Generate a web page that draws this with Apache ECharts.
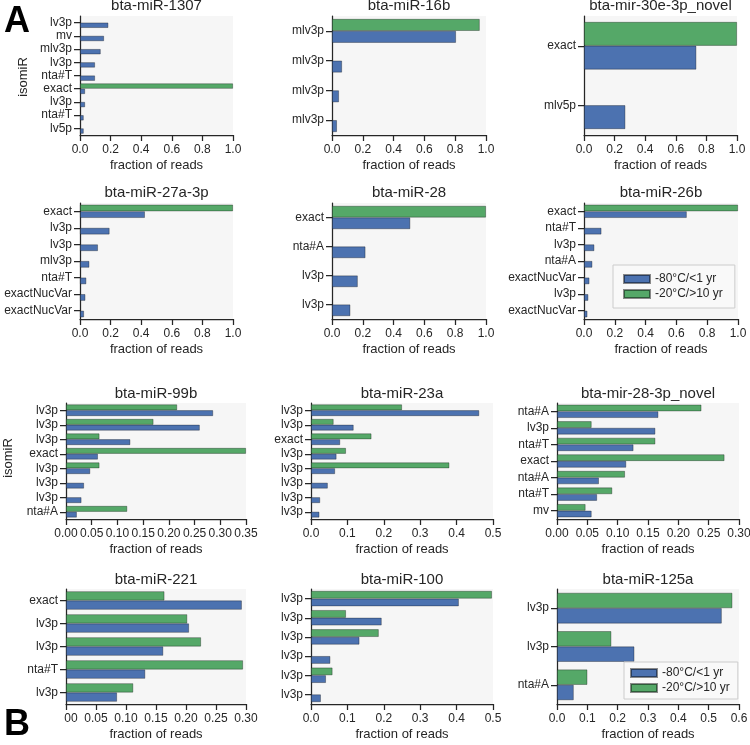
<!DOCTYPE html>
<html>
<head>
<meta charset="utf-8">
<script src="https://cdn.jsdelivr.net/npm/echarts/dist/echarts.min.js"></script>
<style>
  html, body { margin: 0; padding: 0; background: #fff; }
  #chart { width: 750px; height: 745px; }
</style>
</head>
<body>
<div id="chart"></div>
<script>
// legend / series names
const seriesNames = ['-80°C/<1 yr', '-20°C/>10 yr'];

const titles = [
  'bta-miR-1307', 'bta-miR-16b', 'bta-mir-30e-3p_novel',
  'bta-miR-27a-3p', 'bta-miR-28', 'bta-miR-26b',
  'bta-miR-99b', 'bta-miR-23a', 'bta-mir-28-3p_novel',
  'bta-miR-221', 'bta-miR-100', 'bta-miR-125a'
];

// x axis range per panel
const xMax = [1, 1, 1, 1, 1, 1, 0.35, 0.5, 0.3, 0.3, 0.5, 0.6];
const xStep = [0.2, 0.2, 0.2, 0.2, 0.2, 0.2, 0.05, 0.1, 0.05, 0.05, 0.1, 0.1];

// isomiR labels, -80°C (cold) and -20°C (warm) fractions, top to bottom
const miR1307Labels = ['lv3p', 'mv', 'mlv3p', 'lv3p', 'nta#T', 'exact', 'lv3p', 'nta#T', 'lv5p'];
const miR1307Cold = [0.185, 0.157, 0.135, 0.098, 0.098, 0.033, 0.033, 0.024, 0.024];
const miR1307Warm = [0, 0, 0, 0, 0, 1.0, 0, 0, 0];

const miR16bLabels = ['mlv3p', 'mlv3p', 'mlv3p', 'mlv3p'];
const miR16bCold = [0.805, 0.065, 0.045, 0.032];
const miR16bWarm = [0.959, 0, 0, 0];

const mir30eLabels = ['exact', 'mlv5p'];
const mir30eCold = [0.734, 0.27];
const mir30eWarm = [1.0, 0];

const miR27aLabels = ['exact', 'lv3p', 'lv3p', 'mlv3p', 'nta#T', 'exactNucVar', 'exactNucVar'];
const miR27aCold = [0.424, 0.193, 0.117, 0.061, 0.041, 0.035, 0.026];
const miR27aWarm = [1.0, 0, 0, 0, 0, 0, 0];

const miR28Labels = ['exact', 'nta#A', 'lv3p', 'lv3p'];
const miR28Cold = [0.508, 0.217, 0.167, 0.119];
const miR28Warm = [1.0, 0, 0, 0];

const miR26bLabels = ['exact', 'nta#T', 'lv3p', 'nta#A', 'exactNucVar', 'lv3p', 'exactNucVar'];
const miR26bCold = [0.667, 0.113, 0.067, 0.054, 0.035, 0.028, 0.022];
const miR26bWarm = [1.0, 0, 0, 0, 0, 0, 0];

const miR99bLabels = ['lv3p', 'lv3p', 'lv3p', 'exact', 'lv3p', 'lv3p', 'lv3p', 'nta#A'];
const miR99bCold = [0.286, 0.26, 0.125, 0.062, 0.047, 0.035, 0.030, 0.021];
const miR99bWarm = [0.216, 0.17, 0.065, 0.35, 0.065, 0, 0, 0.119];

const miR23aLabels = ['lv3p', 'lv3p', 'exact', 'lv3p', 'lv3p', 'lv3p', 'lv3p', 'lv3p'];
const miR23aCold = [0.462, 0.117, 0.080, 0.070, 0.066, 0.046, 0.025, 0.023];
const miR23aWarm = [0.250, 0.062, 0.166, 0.096, 0.380, 0, 0, 0];

const mir28Labels = ['nta#A', 'lv3p', 'nta#T', 'exact', 'nta#A', 'nta#T', 'mv'];
const mir28Cold = [0.167, 0.162, 0.126, 0.114, 0.069, 0.066, 0.057];
const mir28Warm = [0.238, 0.057, 0.162, 0.276, 0.112, 0.091, 0.047];

const miR221Labels = ['exact', 'lv3p', 'lv3p', 'nta#T', 'lv3p'];
const miR221Cold = [0.293, 0.205, 0.162, 0.132, 0.085];
const miR221Warm = [0.164, 0.202, 0.225, 0.295, 0.112];

const miR100Labels = ['lv3p', 'lv3p', 'lv3p', 'lv3p', 'lv3p', 'lv3p'];
const miR100Cold = [0.406, 0.194, 0.133, 0.053, 0.041, 0.027];
const miR100Warm = [0.497, 0.096, 0.186, 0, 0.059, 0];

const miR125aLabels = ['lv3p', 'lv3p', 'nta#A'];
const miR125aCold = [0.543, 0.255, 0.055];
const miR125aWarm = [0.578, 0.179, 0.100];

const panels = [
  [miR1307Labels, miR1307Cold, miR1307Warm],
  [miR16bLabels, miR16bCold, miR16bWarm],
  [mir30eLabels, mir30eCold, mir30eWarm],
  [miR27aLabels, miR27aCold, miR27aWarm],
  [miR28Labels, miR28Cold, miR28Warm],
  [miR26bLabels, miR26bCold, miR26bWarm],
  [miR99bLabels, miR99bCold, miR99bWarm],
  [miR23aLabels, miR23aCold, miR23aWarm],
  [mir28Labels, mir28Cold, mir28Warm],
  [miR221Labels, miR221Cold, miR221Warm],
  [miR100Labels, miR100Cold, miR100Warm],
  [miR125aLabels, miR125aCold, miR125aWarm]
];

// grid boxes: left, top, width, height
const boxes = [
  [80, 16, 153, 119], [332, 16, 154, 119], [584, 16, 153, 119],
  [80, 203, 153, 116], [332, 203, 154, 116], [584, 203, 154, 116],
  [66, 403, 180, 116], [311, 403, 182, 116], [557, 403, 182, 116],
  [66, 589, 180, 115], [311, 589, 182, 115], [557, 589, 182, 115]
];
const titleY = [6, 6, 6, 193, 193, 193, 394, 394, 394, 580, 580, 580];

const FONT = '"Liberation Sans", Arial, sans-serif';
const INK = '#262626';
const BLUE = '#4c72b0';
const GREEN = '#55a868';

const chart = echarts.init(document.getElementById('chart'));

const grid = [], xAxis = [], yAxis = [], series = [], graphic = [];

panels.forEach((p, i) => {
  const [labels, cold, warm] = p;
  const [l, t, w, h] = boxes[i];
  const dec = xStep[i] < 0.09 ? 2 : 1;
  grid.push({
    left: l, top: t, width: w, height: h,
    show: true, backgroundColor: '#f6f6f6', borderWidth: 0,
    containLabel: false, outerBoundsMode: 'none'
  });
  xAxis.push({
    type: 'value', gridIndex: i, min: 0, max: xMax[i], interval: xStep[i],
    name: 'fraction of reads', nameLocation: 'middle', nameGap: 24,
    nameTextStyle: { fontFamily: FONT, fontSize: 13, color: INK },
    axisLine: { show: true, lineStyle: { color: INK, width: 1.25 } },
    axisTick: { show: true, length: 6, lineStyle: { color: INK, width: 1.25 } },
    axisLabel: {
      fontFamily: FONT, fontSize: 12, color: INK, margin: 9,
      showMinLabel: true, showMaxLabel: true,
      formatter: (v) => Number(v).toFixed(dec)
    },
    splitLine: { show: false }
  });
  yAxis.push({
    type: 'category', gridIndex: i, inverse: true,
    data: labels.map((_, k) => String(k)),
    axisLine: { show: true, lineStyle: { color: INK, width: 1.25 } },
    axisTick: { show: true, interval: 0, alignWithLabel: true, length: 6, lineStyle: { color: INK, width: 1.25 } },
    axisLabel: {
      fontFamily: FONT, fontSize: 12, color: INK, margin: 8, interval: 0,
      formatter: (v, k) => labels[k]
    },
    splitLine: { show: false }
  });
  const barStyle = (c) => ({ color: c, borderColor: 'rgba(0,0,0,0.45)', borderWidth: 0.7 });
  series.push({
    type: 'bar', name: seriesNames[1], xAxisIndex: i, yAxisIndex: i,
    data: warm.map((v) => (v > 0 ? v : '-')),
    itemStyle: barStyle(GREEN), barGap: '0%', barCategoryGap: '20%',
    emphasis: { disabled: true }
  });
  series.push({
    type: 'bar', name: seriesNames[0], xAxisIndex: i, yAxisIndex: i,
    data: cold.map((v) => (v > 0 ? v : '-')),
    itemStyle: barStyle(BLUE), barGap: '0%', barCategoryGap: '20%',
    emphasis: { disabled: true }
  });
  graphic.push({
    type: 'text', x: l + w / 2, y: titleY[i], z: 10,
    style: {
      text: titles[i], fontFamily: FONT, fontSize: 15, fill: INK,
      textAlign: 'center', textVerticalAlign: 'middle'
    }
  });
});

// y axis titles
graphic.push({
  type: 'text', x: 23, y: 77, rotation: Math.PI / 2,
  style: { text: 'isomiR', fontFamily: FONT, fontSize: 13, fill: INK, textAlign: 'center', textVerticalAlign: 'middle' }
});
graphic.push({
  type: 'text', x: 8, y: 458, rotation: Math.PI / 2,
  style: { text: 'isomiR', fontFamily: FONT, fontSize: 13, fill: INK, textAlign: 'center', textVerticalAlign: 'middle' }
});
// panel letters
graphic.push({
  type: 'text', x: 4, y: 22, z: 20,
  style: { text: 'A', fontFamily: FONT, fontSize: 36, fontWeight: 'bold', fill: '#000', textVerticalAlign: 'middle' }
});
graphic.push({
  type: 'rect', shape: { x: 0, y: 708, width: 64, height: 37 }, z: 19,
  style: { fill: '#fff' }
});
graphic.push({
  type: 'text', x: 4, y: 725, z: 20,
  style: { text: 'B', fontFamily: FONT, fontSize: 36, fontWeight: 'bold', fill: '#000', textVerticalAlign: 'middle' }
});

const legendBase = {
  data: seriesNames, orient: 'vertical', itemWidth: 26, itemHeight: 8, itemGap: 3,
  icon: 'rect', borderColor: '#cccccc', borderWidth: 1, borderRadius: 0,
  backgroundColor: 'rgba(250,250,250,0.9)',
  textStyle: { fontFamily: FONT, fontSize: 12, color: INK },
  selectedMode: false
};

chart.setOption({
  animation: false,
  backgroundColor: '#ffffff',
  grid, xAxis, yAxis, series, graphic,
  legend: [
    Object.assign({}, legendBase, { left: 613, top: 265, padding: [8, 12, 8, 10] }),
    Object.assign({}, legendBase, { left: 624, top: 662, padding: [5, 8, 5, 6] })
  ]
});
</script>
</body>
</html>
